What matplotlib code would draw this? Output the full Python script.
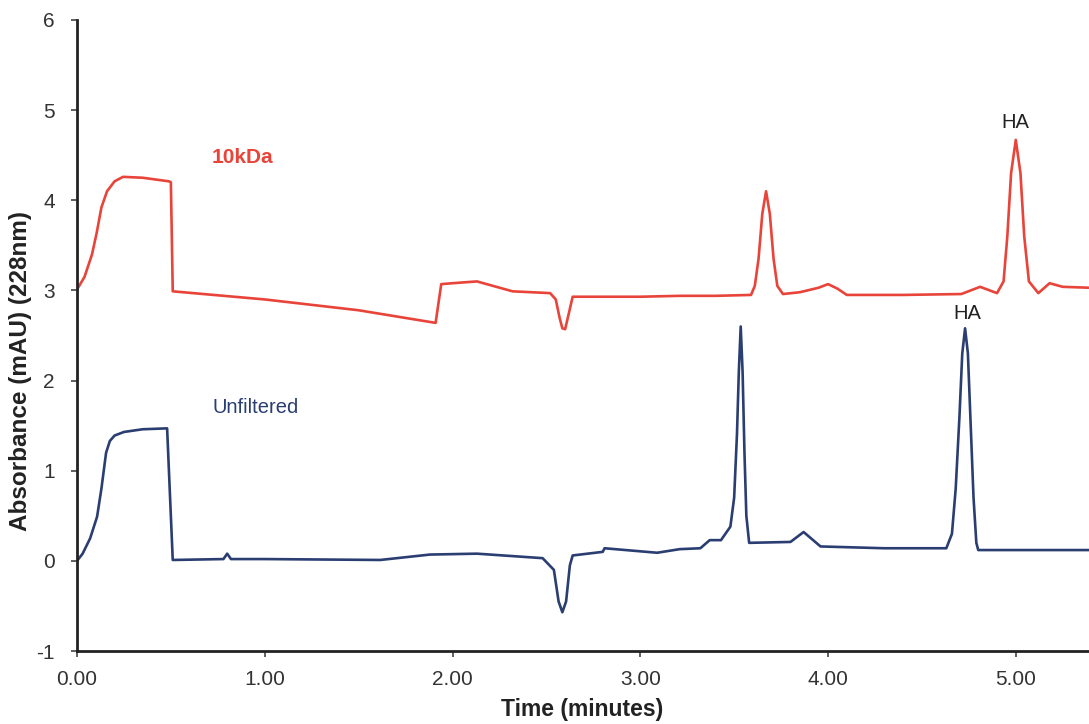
import matplotlib
matplotlib.use("Agg")
import matplotlib.pyplot as plt
from matplotlib.ticker import FormatStrFormatter

plt.rcParams['font.family'] = ['Liberation Sans', 'DejaVu Sans']
plt.rcParams['axes.unicode_minus'] = False

# 10kDa filtered trace (time in minutes, absorbance)
t_10kda = [0.00, 0.04, 0.08, 0.105, 0.13, 0.16, 0.20, 0.245, 0.35, 0.49, 0.50, 0.51,
           1.00, 1.50, 1.91, 1.94, 2.00, 2.13, 2.32, 2.52, 2.55, 2.57, 2.585, 2.60, 2.62, 2.64,
           2.80, 3.00, 3.21, 3.40, 3.59, 3.61, 3.63, 3.65, 3.67, 3.69, 3.71, 3.73, 3.76,
           3.85, 3.95, 4.00, 4.05, 4.10, 4.40, 4.71, 4.81, 4.90, 4.935, 4.955, 4.975, 5.00,
           5.025, 5.045, 5.07, 5.12, 5.18, 5.25, 5.39]
a_10kda = [3.01, 3.15, 3.40, 3.64, 3.92, 4.10, 4.21, 4.26, 4.25, 4.21, 4.20, 2.99,
           2.90, 2.78, 2.64, 3.07, 3.08, 3.10, 2.99, 2.97, 2.90, 2.70, 2.58, 2.57, 2.75, 2.93,
           2.93, 2.93, 2.94, 2.94, 2.95, 3.05, 3.35, 3.85, 4.10, 3.85, 3.35, 3.05, 2.96,
           2.98, 3.03, 3.07, 3.02, 2.95, 2.95, 2.96, 3.04, 2.97, 3.10, 3.60, 4.30, 4.67,
           4.30, 3.60, 3.10, 2.97, 3.08, 3.04, 3.03]

# Unfiltered trace
t_unf = [0.00, 0.03, 0.07, 0.107, 0.13, 0.155, 0.175, 0.20, 0.25, 0.35, 0.48, 0.51,
         0.78, 0.80, 0.82, 1.00, 1.615, 1.88, 2.13, 2.48, 2.54, 2.565, 2.585, 2.605, 2.625, 2.64,
         2.80, 2.81, 3.09, 3.21, 3.32, 3.37, 3.43, 3.48, 3.50, 3.515, 3.525, 3.535, 3.545,
         3.555, 3.565, 3.58, 3.80, 3.87, 3.96, 4.30, 4.60, 4.63, 4.66, 4.68, 4.70, 4.715,
         4.73, 4.745, 4.76, 4.775, 4.79, 4.80, 5.39]
a_unf = [0.00, 0.08, 0.25, 0.49, 0.80, 1.20, 1.33, 1.39, 1.43, 1.46, 1.47, 0.01,
         0.02, 0.08, 0.02, 0.02, 0.01, 0.07, 0.08, 0.03, -0.10, -0.45, -0.57, -0.45, -0.05, 0.06,
         0.10, 0.14, 0.09, 0.13, 0.14, 0.23, 0.23, 0.38, 0.70, 1.40, 2.10, 2.60, 2.10,
         1.20, 0.50, 0.20, 0.21, 0.32, 0.16, 0.14, 0.14, 0.14, 0.30, 0.80, 1.60, 2.30,
         2.58, 2.30, 1.50, 0.70, 0.20, 0.12, 0.12]

x_ticks = [0, 1, 2, 3, 4, 5]
y_ticks = [-1, 0, 1, 2, 3, 4, 5, 6]

red = '#e8443a'
navy = '#2b3e72'

fig = plt.figure(figsize=(10.89, 7.24), dpi=100)
ax = fig.add_axes([0.0707, 0.1008, 0.9293, 0.8716])

ax.plot(t_10kda, a_10kda, color=red, lw=1.9, solid_joinstyle='round')
ax.plot(t_unf, a_unf, color=navy, lw=1.9, solid_joinstyle='round')

ax.set_xlim(0, 5.39)
ax.set_ylim(-1, 6)
ax.set_xticks(x_ticks)
ax.set_yticks(y_ticks)
ax.xaxis.set_major_formatter(FormatStrFormatter('%.2f'))
for s in ['top', 'right']:
    ax.spines[s].set_visible(False)
for s in ['left', 'bottom']:
    ax.spines[s].set_linewidth(2.0)
    ax.spines[s].set_color('#222222')
ax.tick_params(axis='both', labelsize=15, length=4, width=1.2, color='#444444', labelcolor='#333333')
ax.tick_params(axis='x', pad=10)
ax.tick_params(axis='y', pad=12)

ax.set_xlabel('Time (minutes)', fontsize=16.5, fontweight='bold', color='#222222')
ax.set_ylabel('Absorbance (mAU) (228nm)', fontsize=17.5, fontweight='bold', color='#222222')
ax.xaxis.set_label_coords(0.499, -0.092)
ax.xaxis.label.set_va('center')
ax.yaxis.set_label_coords(-0.0563, 0.444)
ax.yaxis.label.set_va('center')

ax.text(0.88, 4.47, '10kDa', color=red, fontsize=15, fontweight='bold', ha='center', va='center')
ax.text(0.95, 1.70, 'Unfiltered', color=navy, fontsize=14.5, ha='center', va='center')
ax.text(5.0, 4.86, 'HA', color='#222222', fontsize=14.5, ha='center', va='center')
ax.text(4.74, 2.74, 'HA', color='#222222', fontsize=14.5, ha='center', va='center')

fig.savefig('out.png', dpi=100)
